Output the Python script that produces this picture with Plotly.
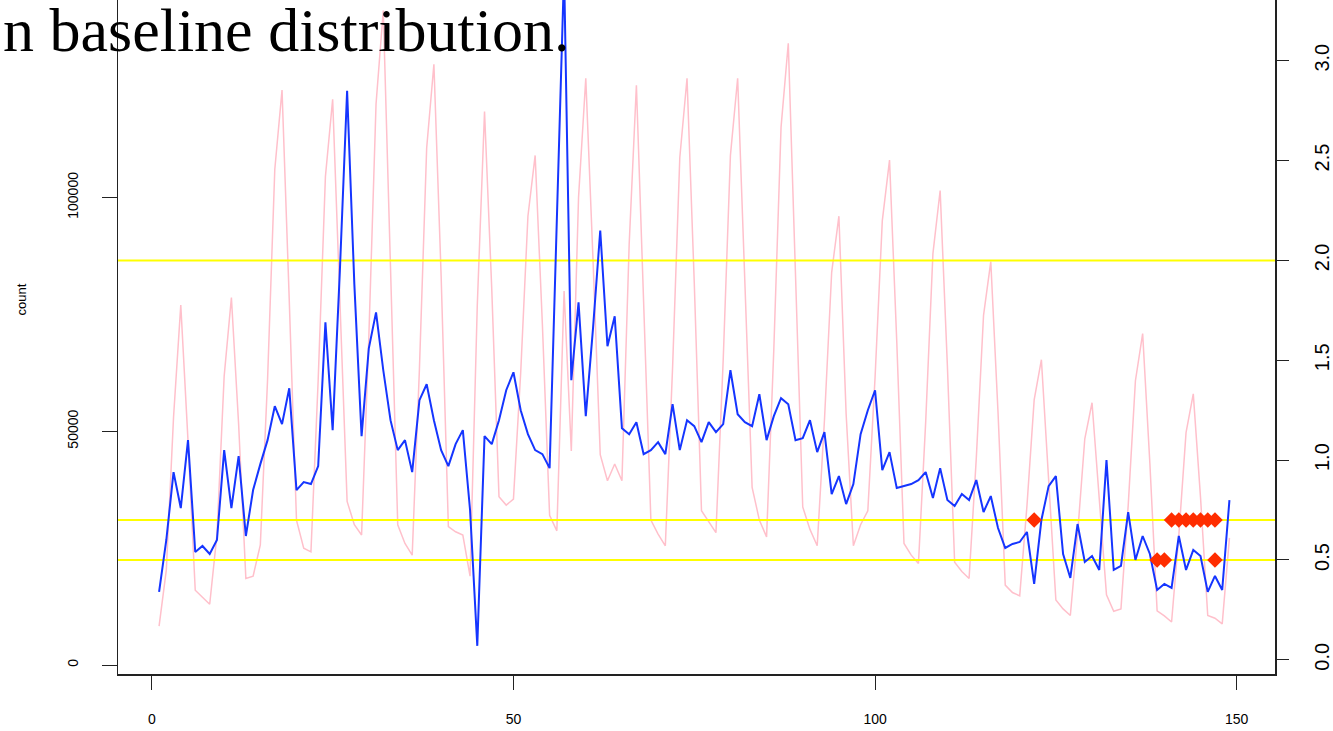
import plotly.graph_objects as go

# ---------------- data ----------------
days = list(range(1, 150))

count = [
    8300, 20300, 53000, 77000, 48000, 16000, 14500, 13000, 27800, 61800,
    78600, 51500, 18500, 19000, 25700, 61000, 106000, 123000, 78000, 31000,
    25000, 24200, 61000, 104500, 121000, 79000, 35000, 30000, 27800, 70000,
    120000, 140000, 87000, 30000, 26000, 23500, 63400, 110600, 128500, 83200,
    29600, 28500, 27800, 19000, 77000, 118400, 80400, 36000, 34200, 35500,
    62500, 96000, 109000, 72900, 32000, 28700, 80000, 45800, 100000, 125500,
    86700, 45000, 39400, 43000, 39400, 90000, 124000, 79700, 31000, 28000,
    25500, 63500, 108500, 125500, 81800, 33000, 30500, 28300, 65200, 109000,
    125500, 81400, 38000, 31000, 27400, 67500, 115000, 133000, 84600, 33800,
    29000, 25500, 52300, 84000, 96000, 53700, 25500, 30000, 33000, 61500,
    95000, 108000, 69200, 26000, 23500, 21700, 52000, 88000, 101500, 64000,
    22000, 20000, 18500, 44300, 74800, 86300, 54100, 17100, 15500, 14800,
    34000, 56700, 65300, 40700, 13900, 12000, 10600, 27900, 48400, 56100,
    36000, 15000, 11500, 12000, 34100, 60800, 70900, 43100, 11600, 10500,
    9200, 27700, 49700, 58000, 35900, 10600, 10000, 8800, 27200,
]

ratio = [
    0.34, 0.60, 0.94, 0.76, 1.10, 0.54, 0.57, 0.53, 0.60, 1.05,
    0.76, 1.02, 0.62, 0.85, 0.98, 1.10, 1.27, 1.18, 1.36, 0.85,
    0.89, 0.88, 0.97, 1.69, 1.15, 1.95, 2.85, 1.88, 1.12, 1.56,
    1.74, 1.45, 1.20, 1.05, 1.10, 0.94, 1.30, 1.38, 1.20, 1.05,
    0.97, 1.08, 1.15, 0.75, 0.07, 1.12, 1.08, 1.20, 1.35, 1.44,
    1.25, 1.13, 1.05, 1.03, 0.96, 2.20, 3.45, 1.40, 1.79, 1.22,
    1.66, 2.15, 1.57, 1.72, 1.16, 1.13, 1.19, 1.03, 1.05, 1.09,
    1.03, 1.28, 1.05, 1.20, 1.17, 1.09, 1.19, 1.14, 1.18, 1.45,
    1.23, 1.19, 1.17, 1.33, 1.10, 1.22, 1.31, 1.28, 1.10, 1.11,
    1.20, 1.04, 1.14, 0.83, 0.92, 0.78, 0.88, 1.13, 1.25, 1.35,
    0.95, 1.04, 0.86, 0.87, 0.88, 0.90, 0.94, 0.81, 0.96, 0.80,
    0.77, 0.83, 0.80, 0.90, 0.74, 0.82, 0.66, 0.56, 0.58, 0.59,
    0.64, 0.38, 0.70, 0.87, 0.92, 0.53, 0.41, 0.68, 0.49, 0.52,
    0.45, 1.00, 0.45, 0.47, 0.74, 0.50, 0.62, 0.53, 0.35, 0.38,
    0.36, 0.62, 0.45, 0.55, 0.52, 0.34, 0.42, 0.35, 0.80,
]

thresholds = [2.0, 0.7, 0.5]

alert_days_07 = [122, 141, 142, 143, 144, 145, 146, 147]
alert_days_05 = [139, 140, 147]

x_ticks = [0, 50, 100, 150]
left_ticks = [0, 50000, 100000]
left_tick_text = ["0", "50000", "100000"]
right_ticks = [0.0, 0.5, 1.0, 1.5, 2.0, 2.5, 3.0]
right_tick_text = ["0.0", "0.5", "1.0", "1.5", "2.0", "2.5", "3.0"]

title_text = "n baseline distribution."
y_label = "count"

# ---------------- figure ----------------
X_RANGE = [-4.68, 155.3]
AXIS_FONT = "Liberation Sans, Arial, sans-serif"

fig = go.Figure()

fig.add_trace(go.Scatter(
    x=days, y=count, mode="lines",
    line=dict(color="#FFC0CB", width=1.5),
    yaxis="y", hoverinfo="skip",
))

for t in thresholds:
    fig.add_trace(go.Scatter(
        x=X_RANGE, y=[t, t], mode="lines",
        line=dict(color="#FFFF00", width=2),
        yaxis="y2", hoverinfo="skip",
    ))

fig.add_trace(go.Scatter(
    x=days, y=ratio, mode="lines",
    line=dict(color="#1535FF", width=2),
    yaxis="y2", hoverinfo="skip",
))

fig.add_trace(go.Scatter(
    x=alert_days_07, y=[0.7] * len(alert_days_07), mode="markers",
    marker=dict(symbol="diamond", size=12, color="#FF2D00", line=dict(width=0)),
    yaxis="y2", hoverinfo="skip",
))
fig.add_trace(go.Scatter(
    x=alert_days_05, y=[0.5] * len(alert_days_05), mode="markers",
    marker=dict(symbol="diamond", size=12, color="#FF2D00", line=dict(width=0)),
    yaxis="y2", hoverinfo="skip",
))

fig.update_layout(
    width=1333, height=731,
    margin=dict(l=118, r=52, t=0, b=57, pad=0),
    paper_bgcolor="white", plot_bgcolor="white",
    showlegend=False,
    xaxis=dict(
        range=X_RANGE, tickvals=x_ticks, ticktext=[str(v) for v in x_ticks],
        ticks="outside", ticklen=14, tickwidth=1, tickcolor="#222",
        showline=True, linecolor="#222", linewidth=1.5,
        showgrid=False, zeroline=False,
        tickfont=dict(family=AXIS_FONT, size=14, color="black"),
        ticklabelstandoff=18,
    ),
    yaxis=dict(
        range=[-1925, 142245], tickvals=left_ticks, ticktext=left_tick_text,
        tickangle=-90,
        ticks="outside", ticklen=15, tickwidth=1, tickcolor="#222",
        showline=True, linecolor="#222", linewidth=1.5,
        showgrid=False, zeroline=False,
        tickfont=dict(family=AXIS_FONT, size=14, color="black"),
        ticklabelstandoff=18,
    ),
    yaxis2=dict(
        overlaying="y", side="right",
        range=[-0.071, 3.304], tickvals=right_ticks, ticktext=right_tick_text,
        tickangle=-90,
        ticks="outside", ticklen=12, tickwidth=1, tickcolor="#222",
        showline=True, linecolor="#222", linewidth=1.5,
        showgrid=False, zeroline=False,
        tickfont=dict(family=AXIS_FONT, size=20, color="black"),
        ticklabelstandoff=16,
    ),
    annotations=[
        dict(
            text=title_text, xref="paper", yref="paper",
            x=(574 - 118) / 1163, y=1 - 30 / 674,
            xanchor="right", yanchor="middle", showarrow=False,
            font=dict(family="Liberation Serif, Times New Roman, serif", size=62, color="black"),
        ),
        dict(
            text=y_label, xref="paper", yref="paper",
            x=(20 - 118) / 1163, y=1 - 300 / 674,
            xanchor="center", yanchor="middle", textangle=-90, showarrow=False,
            font=dict(family=AXIS_FONT, size=13, color="black"),
        ),
    ],
)

fig.write_html(
    "out.html",
    config={"displayModeBar": False, "staticPlot": True},
    post_script="document.body.style.margin='0';document.body.style.overflow='hidden';",
)
